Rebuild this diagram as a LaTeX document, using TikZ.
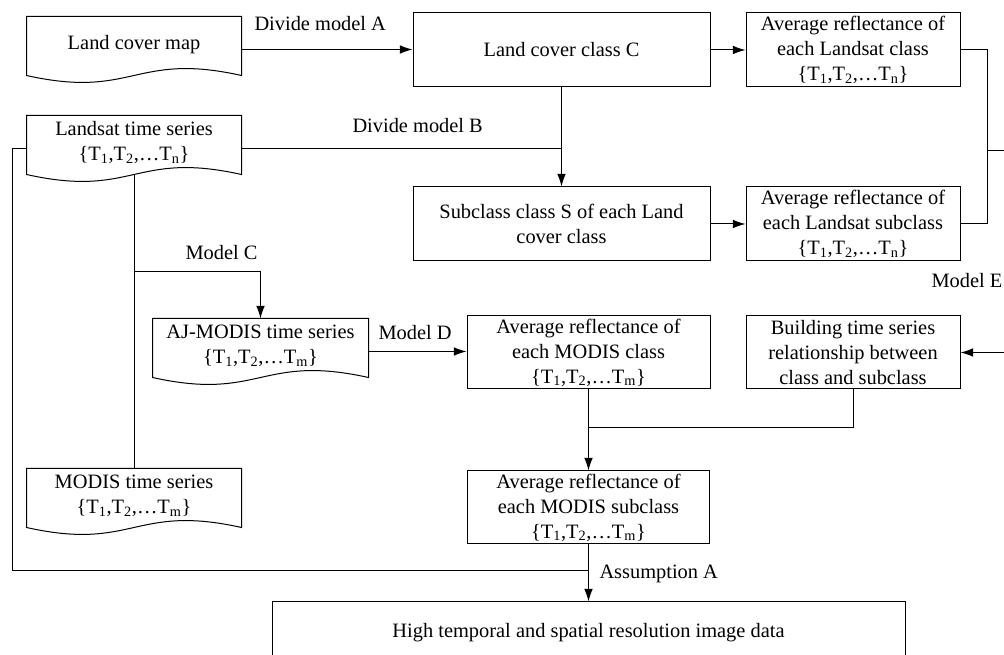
\documentclass[tikz,border=0pt]{standalone}
\usepackage{fontspec}
\setmainfont{Liberation Serif}
\usetikzlibrary{arrows.meta,calc}
\newcommand\Tser[1]{\{T\textsubscript{1},T\textsubscript{2},\ldots T\textsubscript{#1}\}}
\newcommand\up[1]{\raisebox{3.8pt}[\height][\depth]{\begin{tabular}{@{}c@{}}#1\end{tabular}}}
\newcommand\drawdoc[1]{\draw (#1.north west) -- (#1.north east) -- ($(#1.south east)+(0,-7)$) .. controls ($(#1.south)+(0,-31)$) and ($(#1.south)+(0,17)$) .. ($(#1.south west)+(0,-7)$) -- cycle;}
\begin{document}
\begin{tikzpicture}[x=0.75pt,y=-0.75pt, line width=0.75pt,
  every node/.style={font=\fontsize{15.3}{18.75}\selectfont, inner sep=0pt},
  box/.style={draw, align=center, minimum height=55.5pt},
  doc/.style={minimum width=160.5pt, minimum height=48.75pt, align=center},
  arr/.style={-{Latex[length=9.5pt,width=6.5pt]}},
  lab/.style={anchor=base west}]
\useasboundingbox (0,0) rectangle (1004,655);
\clip (0,0) rectangle (1004,655);
% documents
\node[doc] (LM) at (134,49.5) {\up{Land cover map}};
\node[doc] (LT) at (134,148.5) {\up{Landsat time series\\\Tser{n}}};
\node[doc, minimum width=161.25pt] (AJ) at (260.5,351.5) {\up{AJ-MODIS time series\\\Tser{m}}};
\node[doc] (MO) at (134,501.5) {\up{MODIS time series\\\Tser{m}}};
\drawdoc{LM}
\drawdoc{LT}
\drawdoc{AJ}
\drawdoc{MO}
% boxes
\node[box, minimum width=222.75pt] (C) at (561.5,50) {Land cover class C};
\node[box, minimum width=160.5pt] (LC) at (853,50) {Average reflectance of\\each Landsat class\\\Tser{n}};
\node[box, minimum width=222.75pt] (S) at (561.5,224) {Subclass class S of each Land\\cover class};
\node[box, minimum width=160.5pt] (LS) at (853,224) {Average reflectance of\\each Landsat subclass\\\Tser{n}};
\node[box, minimum width=182.25pt, minimum height=54.75pt] (MC) at (588.5,352.5) {Average reflectance of\\each MODIS class\\\Tser{m}};
\node[box, minimum width=160.5pt, minimum height=54.75pt] (B) at (853,352.5) {Building time series\\relationship between\\class and subclass};
\node[box, minimum width=181.5pt, minimum height=54.75pt] (MS) at (588.5,507.5) {Average reflectance of\\each MODIS subclass\\\Tser{m}};
\node[box, minimum width=474.75pt, minimum height=46.5pt] (H) at (588.5,633) {High temporal and spatial resolution image data};
% connectors
\draw[arr] (LM.east) -- (LM.east -| C.west);
\node[lab] (lA) at (254,31) {Divide model A};
\draw[arr] (C.east) -- (LC.west);
\draw[arr] (C.south) -- (S.north);
\draw (LT.east) -- (LT.east -| C.south);
\node[lab] (lB) at (352,133) {Divide model B};
\draw[arr] (S.east) -- (LS.west);
\coordinate (jR) at (987,151);
\draw (LC.east) -| (jR);
\draw (LS.east) -| (jR);
\draw[arr] (jR) -- ++(60,0) |- (B.east);
\node[lab] (lE) at (931,288) {Model E};
\coordinate (LTb) at ($(LT.south)+(0,-7)$);
\draw (LTb) -- (MO.north);
\coordinate (jC) at (134,272);
\draw[arr] (jC) -| (AJ.north);
\node[lab] (lC) at (185,260) {Model C};
\draw[arr] (AJ.east) -- (AJ.east -| MC.west);
\node[lab] (lD) at (378,340) {Model D};
\coordinate (jM) at (588.5,428);
\draw (MC.south) -- (jM);
\draw (B.south) |- (jM);
\draw[arr] (jM) -- (MS.north);
\coordinate (jA) at (588.5,571);
\draw (LT.west) -- ++(-14,0) |- (jA);
\draw[arr] (MS.south) -- (H.north);
\node[lab] (lAs) at (599,579) {Assumption A};
\end{tikzpicture}
\end{document}
